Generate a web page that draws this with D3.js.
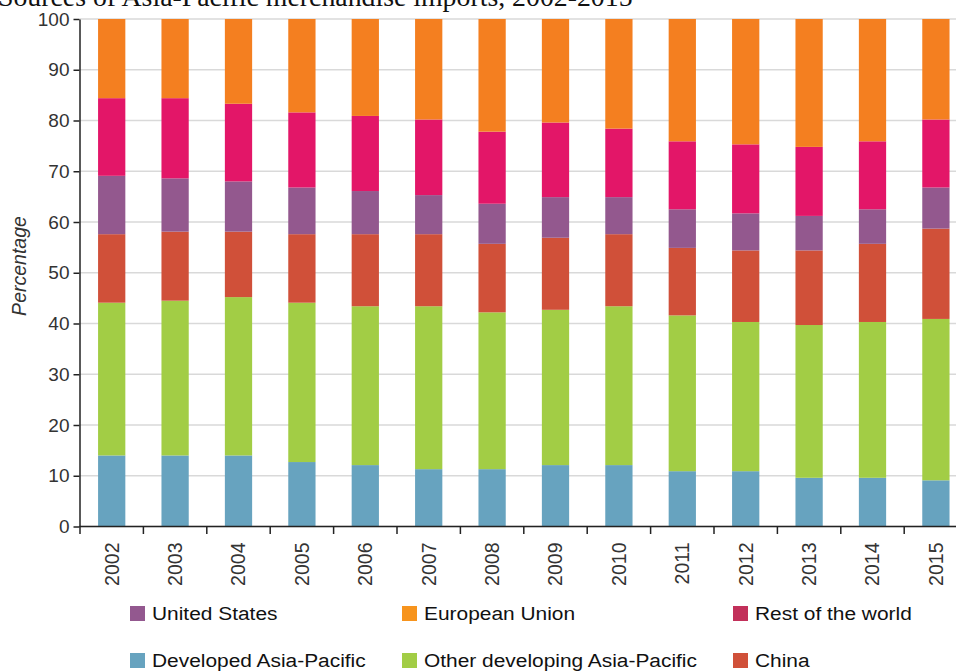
<!DOCTYPE html>
<html>
<head>
<meta charset="utf-8">
<script src="https://cdn.jsdelivr.net/npm/d3@7"></script>
<style>
  body { margin: 0; background: #fff; }
  svg { display: block; }
  .tick text { font-family: "Liberation Sans", Arial, sans-serif; fill: #333; }
</style>
</head>
<body>
<script>
// years on the x axis
var years = ["2002","2003","2004","2005","2006","2007","2008","2009","2010","2011","2012","2013","2014","2015"];

// share of imports (%) by source, bottom to top of each bar
var developed_ap = [14.0, 14.0, 14.0, 12.7, 12.1, 11.3, 11.3, 12.1, 12.1, 10.9, 10.9, 9.6, 9.6, 9.1];
var other_dev_ap = [30.1, 30.5, 31.2, 31.4, 31.3, 32.1, 30.9, 30.6, 31.3, 30.7, 29.4, 30.1, 30.7, 31.8];
var china        = [13.5, 13.6, 12.9, 13.5, 14.2, 14.2, 13.5, 14.2, 14.2, 13.3, 14.1, 14.7, 15.4, 17.8];
var united_states= [11.5, 10.5,  9.9,  9.2,  8.5,  7.7,  7.9,  8.0,  7.3,  7.6,  7.3,  6.8,  6.8,  8.1];
var rest_world   = [15.3, 15.8, 15.3, 14.8, 14.8, 14.9, 14.2, 14.7, 13.5, 13.4, 13.6, 13.6, 13.4, 13.4];
var european_un  = [15.6, 15.6, 16.7, 18.4, 19.1, 19.8, 22.2, 20.4, 21.6, 24.1, 24.7, 25.2, 24.1, 19.8];

var yTicks = [0,10,20,30,40,50,60,70,80,90,100];

var series = [
    {key: "dev",   name: "Developed Asia-Pacific",       values: developed_ap,  color: "#67a3bf", legend: "#67a3bf"},
    {key: "other", name: "Other developing Asia-Pacific",values: other_dev_ap,  color: "#a2cd45", legend: "#a2cd45"},
    {key: "china", name: "China",                        values: china,         color: "#d05039", legend: "#d05039"},
    {key: "us",    name: "United States",                values: united_states, color: "#93588e", legend: "#93588f"},
    {key: "row",   name: "Rest of the world",            values: rest_world,    color: "#e31668", legend: "#c2305a"},
    {key: "eu",    name: "European Union",               values: european_un,   color: "#f47f20", legend: "#f7941d"}
];

// legend order: row 1 then row 2
var legendOrder = ["us","eu","row","dev","other","china"];

//build table for d3.stack
var table = years.map((yr, i) => {
    let row = {year: yr};
    series.forEach(s => { row[s.key] = s.values[i]; });
    return row;
});

var width = 956, height = 671;
var svg = d3.select("body").append("svg")
    .attr("width", width)
    .attr("height", height);

var x = d3.scaleBand()
    .domain(years)
    .range([80, 967.6])
    .paddingInner(0.57)
    .paddingOuter(0.285);

var y = d3.scaleLinear()
    .domain([0, 100])
    .range([526.5, 19]);

// gridlines
svg.append("g")
    .selectAll("line")
    .data(yTicks)
    .enter()
    .append("line")
    .attr("x1", 80)
    .attr("x2", width)
    .attr("y1", d => y(d))
    .attr("y2", d => y(d))
    .attr("stroke", "#d9d9d9")
    .attr("stroke-width", 1.5);

// stacked bars
var stack = d3.stack().keys(series.map(s => s.key));
var layers = stack(table);

svg.append("g")
    .selectAll("g")
    .data(layers)
    .enter()
    .append("g")
    .attr("fill", d => series.find(s => s.key === d.key).color)
    .selectAll("rect")
    .data(d => d)
    .enter()
    .append("rect")
    .attr("x", d => x(d.data.year))
    .attr("width", x.bandwidth())
    .attr("y", d => y(d[1]))
    .attr("height", d => y(d[0]) - y(d[1]));

// y axis
var yAxis = svg.append("g")
    .attr("transform", "translate(79.5,0)")
    .call(d3.axisLeft(y).tickValues(yTicks).tickSize(6).tickSizeOuter(0).tickPadding(4));
yAxis.select(".domain").attr("stroke", "#222").attr("stroke-width", 1.5);
yAxis.selectAll(".tick line").attr("stroke", "#222").attr("stroke-width", 1.5);
yAxis.selectAll(".tick text").style("font-size", "19px");

// x axis: labels in the middle of each band, ticks on band edges
var xAxis = svg.append("g")
    .attr("transform", "translate(0,526.5)")
    .call(d3.axisBottom(x).tickSize(0).tickSizeOuter(0));
xAxis.select(".domain").remove();
xAxis.selectAll(".tick text")
    .style("font-size", "19.5px")
    .attr("text-anchor", "end")
    .attr("transform", "translate(0,16) rotate(-90)")
    .attr("x", 0)
    .attr("y", 0)
    .attr("dy", "0.35em");

svg.append("line")
    .attr("x1", 79.5).attr("x2", width)
    .attr("y1", 526.5).attr("y2", 526.5)
    .attr("stroke", "#222").attr("stroke-width", 1.5);

svg.append("g")
    .selectAll("line")
    .data(years)
    .enter()
    .append("line")
    .attr("x1", d => x(d) + x.bandwidth() / 2 - x.step() / 2)
    .attr("x2", d => x(d) + x.bandwidth() / 2 - x.step() / 2)
    .attr("y1", 526.5)
    .attr("y2", 534)
    .attr("stroke", "#222")
    .attr("stroke-width", 1.5);

// y label
svg.append("text")
    .attr("transform", "translate(26,266) rotate(-90)")
    .attr("text-anchor", "middle")
    .style("font-family", "'Liberation Sans', Arial, sans-serif")
    .style("font-style", "italic")
    .style("font-size", "19.5px")
    .attr("fill", "#333")
    .text("Percentage");

// title (partly cut off at the top)
var title = svg.append("text")
    .attr("x", -2)
    .attr("y", 6)
    .style("font-family", "'Liberation Serif', 'Times New Roman', serif")
    .style("font-size", "22px")
    .attr("fill", "#111")
    .text("Sources of Asia-Pacific merchandise imports, 2002-2015");
var tw = title.node().getComputedTextLength();
title.style("font-size", (22 * 635 / tw) + "px");

// legend
var legendCols = [130, 402, 733];
var legendRows = [613.5, 660.5];
var legend = svg.append("g")
    .selectAll("g")
    .data(legendOrder.map(k => series.find(s => s.key === k)))
    .enter()
    .append("g")
    .attr("transform", (d, i) => "translate(" + legendCols[i % 3] + "," + legendRows[Math.floor(i / 3)] + ")");

legend.append("rect")
    .attr("x", 0)
    .attr("y", -7.5)
    .attr("width", 15)
    .attr("height", 15)
    .attr("fill", d => d.legend);

// legend text is a bit wider than normal in the original
legend.append("text")
    .attr("transform", "translate(22,0) scale(1.1,1)")
    .attr("dy", "0.35em")
    .style("font-family", "'Liberation Sans', Arial, sans-serif")
    .style("font-size", "19px")
    .attr("fill", "#111")
    .text(d => d.name);
</script>
</body>
</html>
